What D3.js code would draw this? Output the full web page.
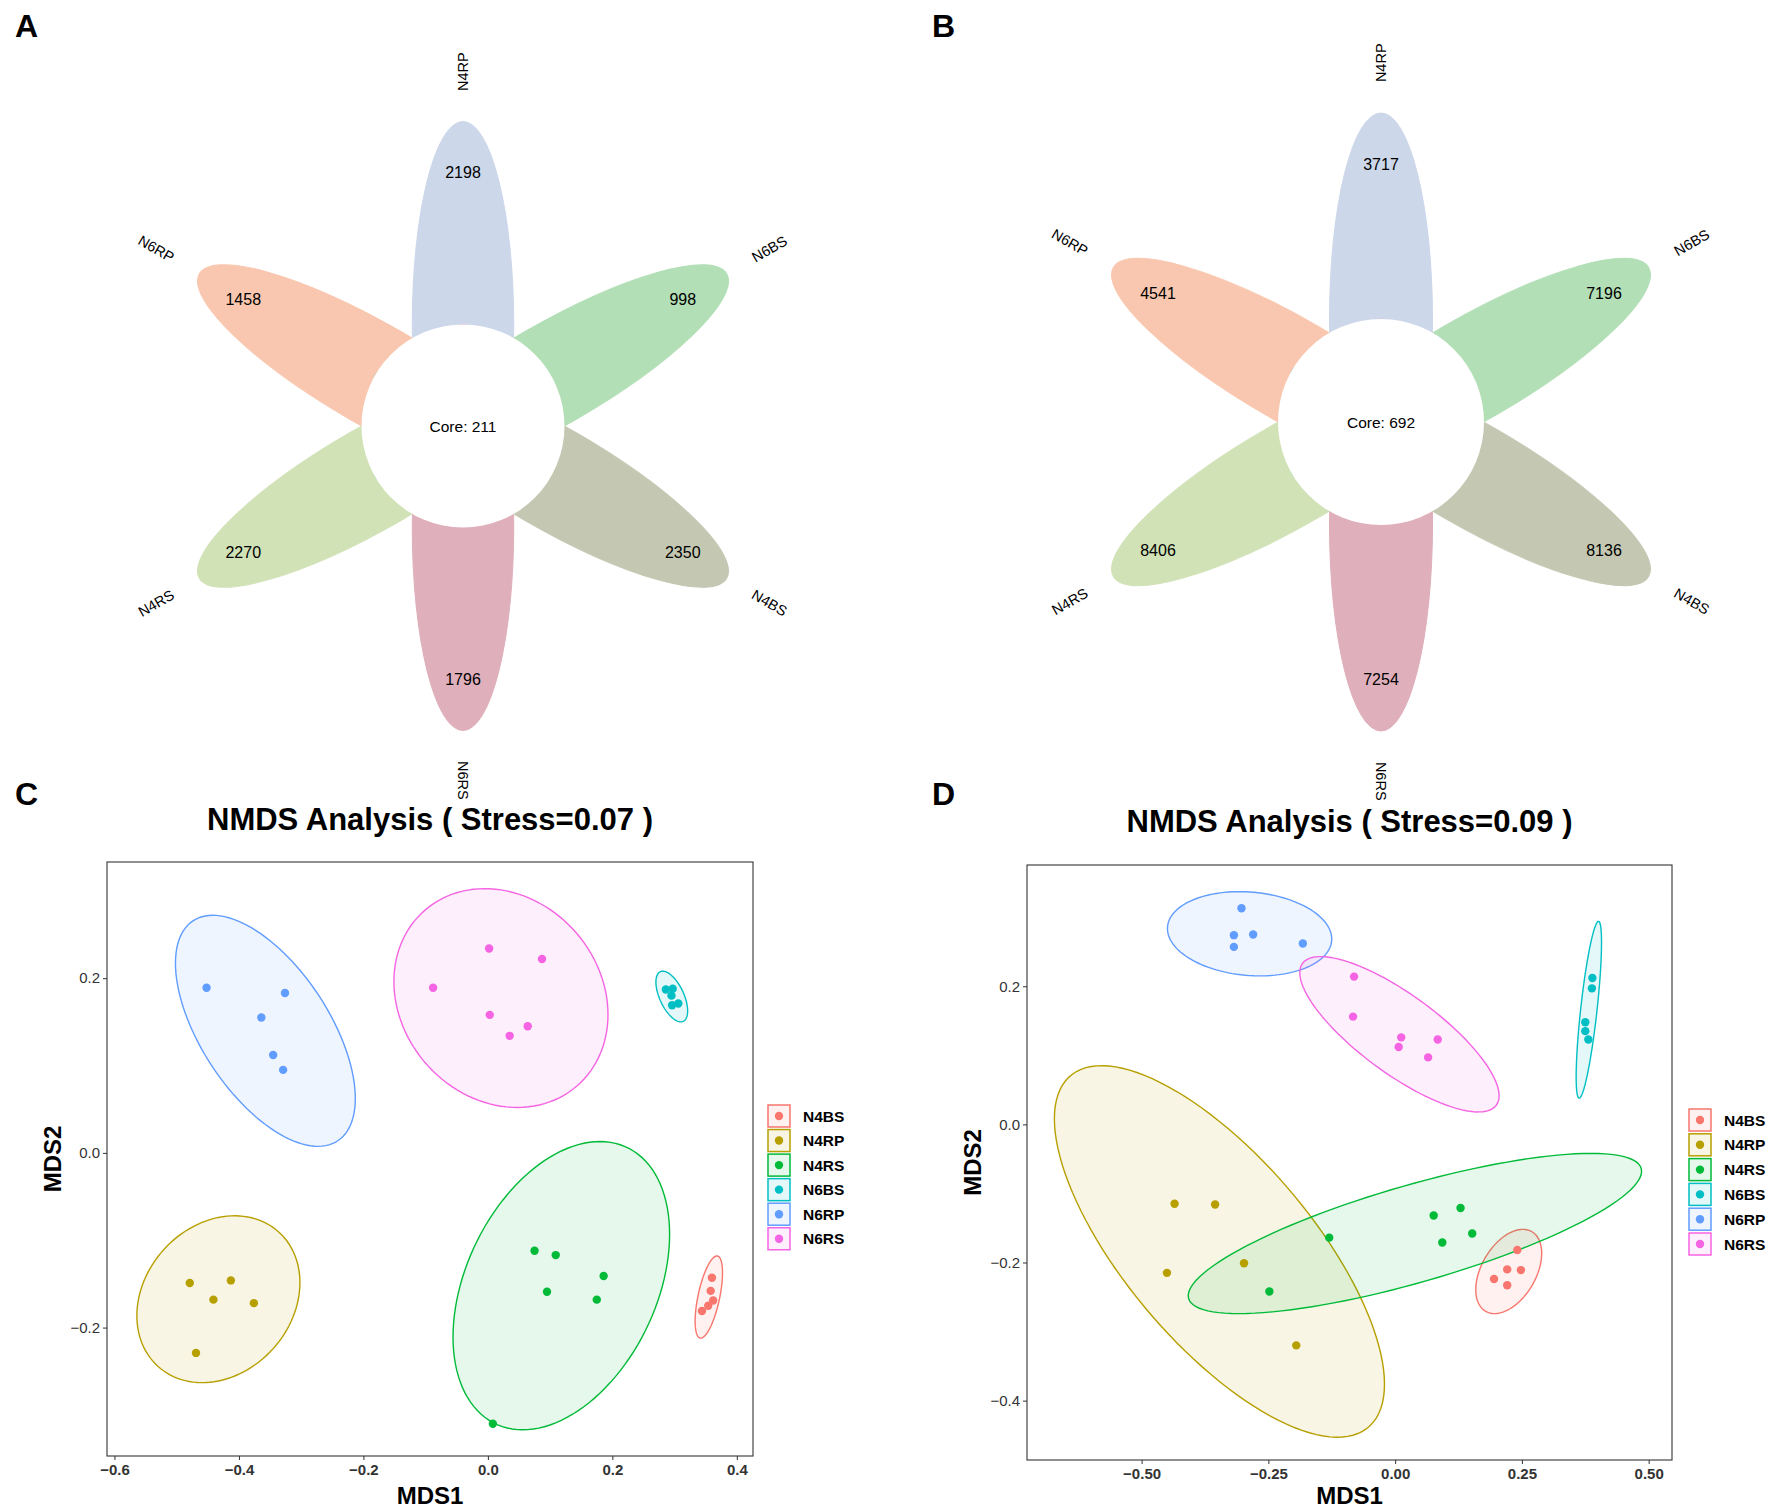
<!DOCTYPE html>
<html>
<head>
<meta charset="utf-8">
<script src="https://cdn.jsdelivr.net/npm/d3@7"></script>
<style>
  html, body { margin: 0; padding: 0; background: #fff; }
  svg { display: block; font-family: "Liberation Sans", Arial, Helvetica, sans-serif; }
</style>
</head>
<body>
<svg id="fig" width="1771" height="1511"></svg>
<script>
// ---------------- DATA ----------------
// Flower (petal) diagrams: samples in drawing order (counter-clockwise from the top)
const flowerSamples = ["N4RP", "N6RP", "N4RS", "N6RS", "N4BS", "N6BS"];
const petalColors = ["#CDD7EA", "#F9C7AF", "#D1E2B7", "#DFAFBB", "#C4C8B2", "#B2DFB6"];
const flowerValuesA = [2198, 1458, 2270, 1796, 2350, 998];
const flowerValuesB = [3717, 4541, 8406, 7254, 8136, 7196];
const coreA = 211;
const coreB = 692;

// NMDS groups
const groups = ["N4BS", "N4RP", "N4RS", "N6BS", "N6RP", "N6RS"];
const groupColors = ["#F8766D", "#B79F00", "#00BA38", "#00BFC4", "#619CFF", "#F564E3"];

// Panel C: points (MDS1, MDS2) per group
const cX_N4BS = [0.360, 0.358, 0.362, 0.354, 0.344];
const cY_N4BS = [-0.143, -0.158, -0.169, -0.175, -0.181];
const cX_N4RP = [-0.479, -0.413, -0.441, -0.376, -0.469];
const cY_N4RP = [-0.149, -0.146, -0.168, -0.172, -0.229];
const cX_N4RS = [0.075, 0.109, 0.186, 0.095, 0.175, 0.008];
const cY_N4RS = [-0.112, -0.117, -0.141, -0.159, -0.168, -0.310];
const cX_N6BS = [0.286, 0.297, 0.295, 0.296, 0.306];
const cY_N6BS = [0.187, 0.188, 0.180, 0.169, 0.171];
const cX_N6RP = [-0.452, -0.326, -0.364, -0.345, -0.329];
const cY_N6RP = [0.189, 0.183, 0.155, 0.112, 0.095];
const cX_N6RS = [0.002, 0.087, -0.088, 0.003, 0.064, 0.035];
const cY_N6RS = [0.234, 0.222, 0.189, 0.158, 0.145, 0.134];
// Panel C: 95% ellipses: [xmin, xmax, ymin, ymax, x at top]
const cEllXmin = [0.333, -0.564, -0.056, 0.270, -0.502, -0.151];
const cEllXmax = [0.377, -0.302, 0.292, 0.321, -0.213, 0.193];
const cEllYmin = [-0.212, -0.263, -0.317, 0.150, 0.0075, 0.052];
const cEllYmax = [-0.118, -0.072, 0.013, 0.208, 0.272, 0.3025];
const cEllXtop = [0.368, -0.407, 0.180, 0.281, -0.442, -0.005];

// Panel D
const dX_N4BS = [0.241, 0.221, 0.248, 0.195, 0.221];
const dY_N4BS = [-0.182, -0.210, -0.211, -0.224, -0.233];
const dX_N4RP = [-0.435, -0.355, -0.298, -0.450, -0.195];
const dY_N4RP = [-0.115, -0.116, -0.201, -0.215, -0.320];
const dX_N4RS = [-0.130, -0.248, 0.076, 0.129, 0.093, 0.152];
const dY_N4RS = [-0.164, -0.242, -0.132, -0.121, -0.171, -0.158];
const dX_N6BS = [0.389, 0.388, 0.375, 0.375, 0.381];
const dY_N6BS = [0.212, 0.197, 0.148, 0.135, 0.123];
const dX_N6RP = [-0.303, -0.318, -0.280, -0.318, -0.182];
const dY_N6RP = [0.313, 0.274, 0.275, 0.257, 0.262];
const dX_N6RS = [-0.081, -0.083, 0.012, 0.084, 0.007, 0.065];
const dY_N6RS = [0.214, 0.156, 0.126, 0.123, 0.112, 0.097];
const dEllXmin = [0.159, -0.672, -0.408, 0.357, -0.449, -0.188];
const dEllXmax = [0.289, -0.021, 0.486, 0.407, -0.125, 0.205];
const dEllYmin = [-0.274, -0.453, -0.274, 0.038, 0.215, 0.018];
const dEllYmax = [-0.152, 0.085, -0.042, 0.294, 0.337, 0.243];
const dEllXtop = [0.252, -0.579, 0.386, 0.401, -0.307, -0.147];

// Axis ticks
const cXTicks = [-0.6, -0.4, -0.2, 0.0, 0.2, 0.4];
const cYTicks = [-0.2, 0.0, 0.2];
const dXTicks = [-0.50, -0.25, 0.00, 0.25, 0.50];
const dYTicks = [-0.4, -0.2, 0.0, 0.2];

const panelLetters = ["A", "B", "C", "D"];
const titleC = "NMDS Analysis ( Stress=0.07 )";
const titleD = "NMDS Analysis ( Stress=0.09 )";

// ---------------- DRAWING ----------------
const svg = d3.select("#fig");
svg.append("rect").attr("width", 1771).attr("height", 1511).attr("fill", "#fff");

// Panel letters
const letterPos = [[15, 37], [932, 37], [15, 805], [932, 805]];
panelLetters.forEach((L, i) => {
  svg.append("text").attr("x", letterPos[i][0]).attr("y", letterPos[i][1])
    .attr("font-size", 32).attr("font-weight", "bold").attr("fill", "#000").text(L);
});

function flower(cx, cy, unit, values, core) {
  const g = svg.append("g");
  const u = d3.scaleLinear().domain([0, 1]).range([0, unit]);
  const n = flowerSamples.length, deg = 360 / n, start = 90;
  flowerSamples.forEach((s, k) => {
    const th = (start + deg * k) * Math.PI / 180;
    const ex = cx + u(1) * Math.cos(th), ey = cy - u(1) * Math.sin(th);
    g.append("ellipse").attr("cx", ex).attr("cy", ey)
      .attr("rx", u(2)).attr("ry", u(0.5))
      .attr("transform", `rotate(${-(start + deg * k)},${ex},${ey})`)
      .attr("fill", petalColors[k]).attr("stroke", petalColors[k]).attr("stroke-width", 1);
  });
  flowerSamples.forEach((s, k) => {
    const th = (start + deg * k) * Math.PI / 180;
    g.append("text").attr("x", cx + u(2.5) * Math.cos(th)).attr("y", cy - u(2.5) * Math.sin(th))
      .attr("text-anchor", "middle").attr("dominant-baseline", "central")
      .attr("font-size", 16).attr("fill", "#000").text(values[k]);
    const a = deg * k;
    let srt, anchor;
    if (a > 0 && a < 180) { srt = a - start; anchor = "end"; }
    else { srt = a + start; anchor = "start"; }
    const lx = cx + u(3.3) * Math.cos(th), ly = cy - u(3.3) * Math.sin(th);
    g.append("text").attr("x", lx).attr("y", ly)
      .attr("text-anchor", anchor).attr("dominant-baseline", "central")
      .attr("transform", `rotate(${-srt},${lx},${ly})`)
      .attr("font-size", 14.5).attr("fill", "#000").text(s);
  });
  g.append("circle").attr("cx", cx).attr("cy", cy).attr("r", u(1)).attr("fill", "#fff");
  g.append("text").attr("x", cx).attr("y", cy).attr("text-anchor", "middle")
    .attr("dominant-baseline", "central").attr("font-size", 15.5).attr("fill", "#000")
    .text("Core: " + core);
}

flower(463, 426, 101.5, flowerValuesA, coreA);
flower(1381, 422, 103, flowerValuesB, coreB);

function ellipsePoints(xmin, xmax, ymin, ymax, xtop) {
  const cx = (xmin + xmax) / 2, cy = (ymin + ymax) / 2;
  const hx = (xmax - xmin) / 2, hy = (ymax - ymin) / 2;
  const sxy = (xtop - cx) * hy;
  const l21 = sxy / hx;
  const l22 = Math.sqrt(Math.max(hy * hy - l21 * l21, 1e-9));
  return d3.range(0, 120).map(i => {
    const t = i / 120 * 2 * Math.PI;
    return [cx + hx * Math.cos(t), cy + l21 * Math.cos(t) + l22 * Math.sin(t)];
  });
}

function nmds(cfg) {
  const g = svg.append("g");
  const x = d3.scaleLinear().domain(cfg.xDomain).range([cfg.left, cfg.right]);
  const y = d3.scaleLinear().domain(cfg.yDomain).range([cfg.bottom, cfg.top]);
  const line = d3.line().x(d => x(d[0])).y(d => y(d[1])).curve(d3.curveLinearClosed);

  const clip = "clip" + cfg.id;
  svg.append("clipPath").attr("id", clip).append("rect")
    .attr("x", cfg.left).attr("y", cfg.top)
    .attr("width", cfg.right - cfg.left).attr("height", cfg.bottom - cfg.top);
  const plot = g.append("g").attr("clip-path", `url(#${clip})`);

  groups.forEach((grp, i) => {
    const pts = ellipsePoints(cfg.ell[0][i], cfg.ell[1][i], cfg.ell[2][i], cfg.ell[3][i], cfg.ell[4][i]);
    plot.append("path").attr("d", line(pts))
      .attr("fill", groupColors[i]).attr("fill-opacity", 0.1)
      .attr("stroke", groupColors[i]).attr("stroke-width", 1.4);
  });
  groups.forEach((grp, i) => {
    const xs = cfg.pts[grp][0], ys = cfg.pts[grp][1];
    xs.forEach((v, j) => {
      plot.append("circle").attr("cx", x(v)).attr("cy", y(ys[j])).attr("r", 4.2)
        .attr("fill", groupColors[i]);
    });
  });

  // panel border
  g.append("rect").attr("x", cfg.left).attr("y", cfg.top)
    .attr("width", cfg.right - cfg.left).attr("height", cfg.bottom - cfg.top)
    .attr("fill", "none").attr("stroke", "#333").attr("stroke-width", 1.1);

  // axes
  const xAxis = d3.axisBottom(x).tickValues(cfg.xTicks).tickSize(4).tickPadding(4)
    .tickFormat(d => d3.format(cfg.xFmt)(d).replace("-", "\u2212"));
  const gx = g.append("g").attr("transform", `translate(0,${cfg.bottom})`).call(xAxis);
  gx.select(".domain").remove();
  gx.selectAll("line").attr("stroke", "#333");
  gx.selectAll("text").attr("font-size", 15).attr("font-weight", "bold").attr("fill", "#333")
    .attr("font-family", "Liberation Sans, Arial, sans-serif");

  const yAxis = d3.axisLeft(y).tickValues(cfg.yTicks).tickSize(4).tickPadding(3)
    .tickFormat(d => d3.format(cfg.yFmt)(d).replace("-", "\u2212"));
  const gy = g.append("g").attr("transform", `translate(${cfg.left},0)`).call(yAxis);
  gy.select(".domain").remove();
  gy.selectAll("line").attr("stroke", "#333");
  gy.selectAll("text").attr("font-size", 15).attr("fill", "#333")
    .attr("font-family", "Liberation Sans, Arial, sans-serif");

  // titles
  const cxm = (cfg.left + cfg.right) / 2, cym = (cfg.top + cfg.bottom) / 2;
  g.append("text").attr("x", cxm).attr("y", cfg.titleY).attr("text-anchor", "middle")
    .attr("font-size", 31).attr("font-weight", "bold").attr("fill", "#000").text(cfg.title);
  g.append("text").attr("x", cxm).attr("y", 1504).attr("text-anchor", "middle")
    .attr("font-size", 24).attr("font-weight", "bold").attr("fill", "#000").text("MDS1");
  g.append("text").attr("transform", `translate(${cfg.yTitleX},${cym}) rotate(-90)`)
    .attr("text-anchor", "middle").attr("font-size", 24).attr("font-weight", "bold")
    .attr("fill", "#000").text("MDS2");

  // legend
  groups.forEach((grp, i) => {
    const ly = cfg.legY + i * cfg.legStep;
    g.append("rect").attr("x", cfg.legX).attr("y", ly - 11).attr("width", 22).attr("height", 22)
      .attr("fill", groupColors[i]).attr("fill-opacity", 0.1)
      .attr("stroke", groupColors[i]).attr("stroke-width", 1.5);
    g.append("circle").attr("cx", cfg.legX + 11).attr("cy", ly).attr("r", 4.2).attr("fill", groupColors[i]);
    g.append("text").attr("x", cfg.legX + 35).attr("y", ly).attr("dominant-baseline", "central")
      .attr("font-size", 15.5).attr("font-weight", "bold").attr("fill", "#000").text(grp);
  });
}

nmds({
  id: "C", left: 107, right: 753, top: 862, bottom: 1456,
  xDomain: [-0.612, 0.426], yDomain: [-0.347, 0.333],
  xTicks: cXTicks, yTicks: cYTicks, xFmt: ".1f", yFmt: ".1f",
  title: titleC, titleY: 830, yTitleX: 61,
  legX: 768, legY: 1116, legStep: 24.55,
  pts: { N4BS: [cX_N4BS, cY_N4BS], N4RP: [cX_N4RP, cY_N4RP], N4RS: [cX_N4RS, cY_N4RS],
         N6BS: [cX_N6BS, cY_N6BS], N6RP: [cX_N6RP, cY_N6RP], N6RS: [cX_N6RS, cY_N6RS] },
  ell: [cEllXmin, cEllXmax, cEllYmin, cEllYmax, cEllXtop]
});

nmds({
  id: "D", left: 1027, right: 1672, top: 865, bottom: 1460,
  xDomain: [-0.726, 0.546], yDomain: [-0.486, 0.3756],
  xTicks: dXTicks, yTicks: dYTicks, xFmt: ".2f", yFmt: ".1f",
  title: titleD, titleY: 832, yTitleX: 981,
  legX: 1689, legY: 1120, legStep: 24.8,
  pts: { N4BS: [dX_N4BS, dY_N4BS], N4RP: [dX_N4RP, dY_N4RP], N4RS: [dX_N4RS, dY_N4RS],
         N6BS: [dX_N6BS, dY_N6BS], N6RP: [dX_N6RP, dY_N6RP], N6RS: [dX_N6RS, dY_N6RS] },
  ell: [dEllXmin, dEllXmax, dEllYmin, dEllYmax, dEllXtop]
});
</script>
</body>
</html>
